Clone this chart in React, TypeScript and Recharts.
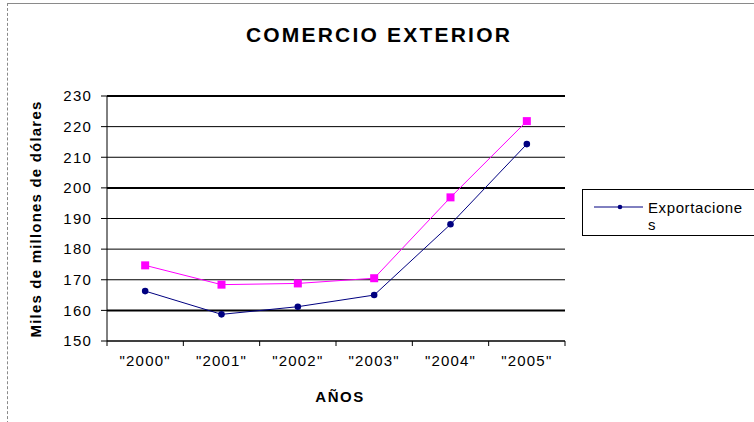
import React from "react";
import {
  LineChart,
  Line,
  XAxis,
  YAxis,
  CartesianGrid,
  Legend,
} from "recharts";

// Years on the category axis
const years = ['"2000"', '"2001"', '"2002"', '"2003"', '"2004"', '"2005"'];
// Miles de millones de dólares
const exportaciones = [166.3, 158.7, 161.2, 165.0, 188.1, 214.3];
const importaciones = [174.7, 168.4, 168.8, 170.5, 196.9, 221.8];
// Y axis ticks
const yTicks = [150, 160, 170, 180, 190, 200, 210, 220, 230];
// Gridlines drawn heavier
const heavyLines = [160, 200, 230];

const data = years.map((year, i) => ({
  year,
  exportaciones: exportaciones[i],
  importaciones: importaciones[i],
}));

const FONT = "'Liberation Sans', Arial, Helvetica, sans-serif";
const NAVY = "#000080";
const MAGENTA = "#FF00FF";
const X_TICK_MARGIN = 14;
const X_TICK_LEN = 5;

const SquareDot = (props: any) => {
  const { cx, cy, index } = props;
  if (cx == null || cy == null) return null;
  return (
    <rect
      key={`sq-${index}`}
      x={cx - 4}
      y={cy - 4}
      width={8}
      height={8}
      fill={MAGENTA}
      stroke="none"
    />
  );
};

const DiamondDot = (props: any) => {
  const { cx, cy, index } = props;
  if (cx == null || cy == null) return null;
  return (
    <circle key={`dm-${index}`} cx={cx} cy={cy} r={3.3} fill={NAVY} stroke="none" />
  );
};

const GridRow = (props: any) => {
  const { x1, x2, y1, y2, index } = props;
  const value = yTicks[index];
  const heavy = heavyLines.includes(value);
  return (
    <line
      key={`row-${index}`}
      x1={x1}
      x2={x2}
      y1={y1}
      y2={y2}
      stroke="#000"
      strokeWidth={heavy ? 2 : 1}
    />
  );
};

// Category label centred in its band, with tick marks on the band edges
const YearTick = (props: any) => {
  const { x, y, payload, index, width, visibleTicksCount } = props;
  const band = width / visibleTicksCount;
  const axisY = y - X_TICK_MARGIN;
  const left = x - band / 2;
  const right = x + band / 2;
  return (
    <g>
      <line x1={left} x2={left} y1={axisY} y2={axisY + X_TICK_LEN} stroke="#000" />
      {index === visibleTicksCount - 1 && (
        <line x1={right} x2={right} y1={axisY} y2={axisY + X_TICK_LEN} stroke="#000" />
      )}
      <text
        x={x}
        y={y}
        dy="0.71em"
        textAnchor="middle"
        fill="#000"
        fontSize={15}
        fontFamily={FONT}
        letterSpacing={1.2}
      >
        {payload.value}
      </text>
    </g>
  );
};

const LegendBox = (props: any) => {
  const items = ((props.payload || []) as any[]).filter((it) => it.type !== "none");
  return (
    <div
      style={{
        border: "1px solid #000",
        background: "#fff",
        width: 200,
        height: 47,
        boxSizing: "border-box",
        position: "relative",
        fontFamily: FONT,
        textAlign: "left",
      }}
    >
      {items.map((it) => (
        <React.Fragment key={it.value}>
          <svg
            width={60}
            height={40}
            style={{ position: "absolute", left: 0, top: 0, display: "block" }}
          >
            <line x1={11} y1={17} x2={60} y2={17} stroke={NAVY} strokeWidth={1} />
            <circle cx={37} cy={17} r={2.3} fill={NAVY} />
          </svg>
          <div
            style={{
              position: "absolute",
              left: 65,
              top: 9,
              width: 96,
              fontSize: 15,
              lineHeight: "17px",
              letterSpacing: 0.6,
              color: "#000",
              wordBreak: "break-all",
            }}
          >
            {it.value}
          </div>
        </React.Fragment>
      ))}
    </div>
  );
};

export default function App() {
  return (
    <div
      style={{
        position: "absolute",
        left: 0,
        top: 0,
        width: 754,
        height: 422,
        overflow: "hidden",
        background: "#fff",
        fontFamily: FONT,
      }}
    >
      <div
        style={{
          position: "absolute",
          left: 7,
          top: 3,
          width: 800,
          height: 430,
          borderTop: "1px solid #8a8a8a",
          borderLeft: "1px dashed #8a8a8a",
        }}
      />
      <LineChart
        width={754}
        height={422}
        data={data}
        margin={{ top: 96, right: 189, bottom: 51, left: 47 }}
      >
        <CartesianGrid vertical={false} horizontal={GridRow} stroke="#000" />
        <XAxis
          dataKey="year"
          scale="band"
          tickLine={false}
          tickSize={0}
          tickMargin={X_TICK_MARGIN}
          stroke="#000"
          height={30}
          tick={<YearTick />}
          interval={0}
        />
        <YAxis
          domain={[150, 230]}
          ticks={yTicks}
          width={60}
          tickSize={6}
          tickMargin={9}
          stroke="#000"
          tick={{ fill: "#000", fontSize: 15, fontFamily: FONT, letterSpacing: 1.2 }}
          interval={0}
        />
        <Legend
          layout="horizontal"
          verticalAlign="middle"
          align="center"
          content={<LegendBox />}
          wrapperStyle={{ position: "absolute", left: 582, top: 189, width: 200 }}
        />
        <Line
          dataKey="importaciones"
          name="Importaciones"
          stroke={MAGENTA}
          strokeWidth={1}
          dot={<SquareDot />}
          activeDot={false}
          legendType="none"
          isAnimationActive={false}
        />
        <Line
          dataKey="exportaciones"
          name="Exportaciones"
          stroke={NAVY}
          strokeWidth={1}
          dot={<DiamondDot />}
          activeDot={false}
          isAnimationActive={false}
        />
      </LineChart>
      <div
        style={{
          position: "absolute",
          left: 379,
          top: 35,
          transform: "translate(-50%, -50%)",
          fontSize: 21,
          fontWeight: "bold",
          letterSpacing: 2.2,
          whiteSpace: "nowrap",
          color: "#000",
        }}
      >
        COMERCIO EXTERIOR
      </div>
      <div
        style={{
          position: "absolute",
          left: 35,
          top: 219,
          transform: "translate(-50%, -50%) rotate(-90deg)",
          fontSize: 15,
          fontWeight: "bold",
          letterSpacing: 1.2,
          whiteSpace: "nowrap",
          color: "#000",
        }}
      >
        Miles de millones de dólares
      </div>
      <div
        style={{
          position: "absolute",
          left: 340,
          top: 396,
          transform: "translate(-50%, -50%)",
          fontSize: 15,
          fontWeight: "bold",
          letterSpacing: 1.5,
          whiteSpace: "nowrap",
          color: "#000",
        }}
      >
        AÑOS
      </div>
    </div>
  );
}
